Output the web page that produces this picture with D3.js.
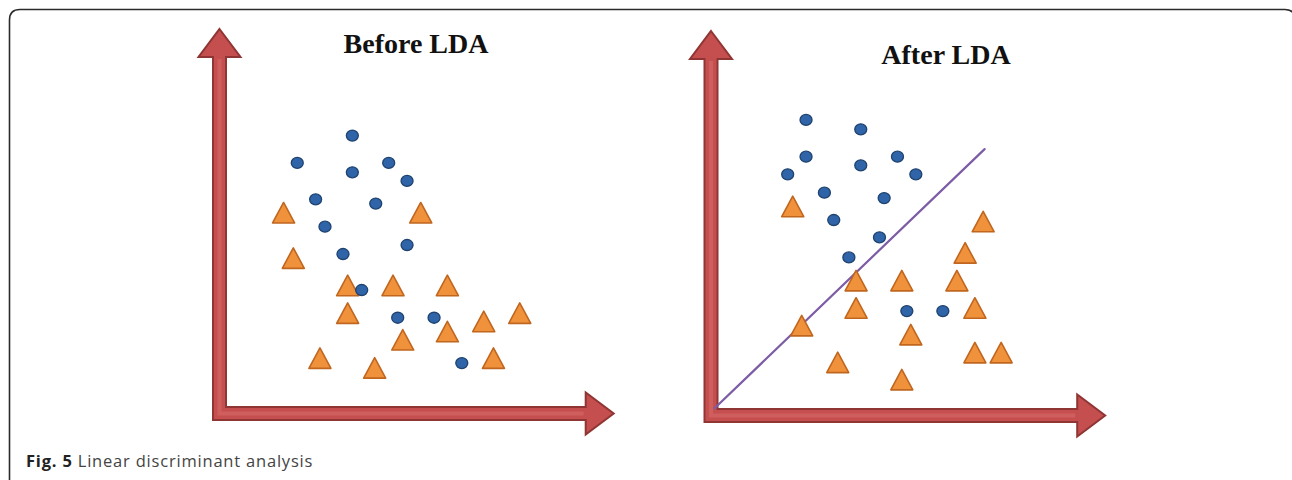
<!DOCTYPE html>
<html><head><meta charset="utf-8">
<script src="https://cdn.jsdelivr.net/npm/d3@7"></script>
<style>body{margin:0;background:#fff}svg{display:block}</style>
</head><body>
<script>
// ---- data (arbitrary feature units, axes origin = 0) ----
const titles = ["Before LDA", "After LDA"];
const beforeCircles = [[3.69,7.72],[2.16,6.96],[4.70,6.96],[3.69,6.70],[5.21,6.46],[2.67,5.95],[4.34,5.83],[2.93,5.19],[5.21,4.68],[3.43,4.43],[3.95,3.43],[4.95,2.66],[5.96,2.66],[6.73,1.40]];
const beforeTriangles = [[1.78,5.57],[5.59,5.57],[2.05,4.31],[3.56,3.55],[4.82,3.55],[6.33,3.55],[3.56,2.78],[8.34,2.78],[7.34,2.55],[6.33,2.27],[5.09,2.04],[2.79,1.53],[7.61,1.53],[4.31,1.26]];
const afterCircles = [[2.64,8.21],[4.16,7.95],[2.64,7.19],[4.16,6.95],[5.18,7.19],[2.13,6.70],[5.69,6.70],[3.15,6.19],[4.81,6.04],[3.41,5.43],[4.68,4.95],[3.83,4.39],[5.44,2.90],[6.44,2.90]];
const afterTriangles = [[2.27,5.80],[7.56,5.38],[7.06,4.51],[4.03,3.74],[5.30,3.74],[6.83,3.74],[4.03,2.98],[7.33,2.98],[2.52,2.49],[5.55,2.24],[3.52,1.47],[7.33,1.74],[8.06,1.74],[5.30,0.99]];
const discriminantLine = [[0.1,0.2],[7.6,7.4]];
const axisExtent = {x: 10.95, y: 10.68};
const caption = {bold: "Fig. 5", text: " Linear discriminant analysis"};

const W = 1292, H = 480;
const svg = d3.select("body").append("svg").attr("width", W).attr("height", H);

// frame
svg.append("path")
  .attr("d", `M9.5,${H+2} L9.5,20 Q9.5,9.5 20,9.5 L1285,9.5 Q1295,9.5 1295,20 L1295,${H+2}`)
  .attr("fill","none").attr("stroke","#2b2b2b").attr("stroke-width",1.6);

const panels = [
  {title: titles[0], ox: 219.5, oy: 413.5, titleX: 416, titleY: 53, circles: beforeCircles, triangles: beforeTriangles, line: null},
  {title: titles[1], ox: 711, oy: 415.5, titleX: 946, titleY: 64, circles: afterCircles, triangles: afterTriangles, line: discriminantLine}
];

panels.forEach((p, i) => {
  const x = d3.scaleLinear().domain([0,10]).range([p.ox, p.ox + 360]);
  const y = d3.scaleLinear().domain([0,10]).range([p.oy, p.oy - 360]);
  const g = svg.append("g");

  // L-shaped arrow axes
  const sw = 6.5, hw = 21, hl = 28;
  const x0 = x(0), y0 = y(0), xt = x(axisExtent.x), yt = y(axisExtent.y);
  const pts = [
    [x0, yt],
    [x0 + hw, yt + hl], [x0 + sw, yt + hl],
    [x0 + sw, y0 - sw],
    [xt - hl, y0 - sw], [xt - hl, y0 - hw],
    [xt, y0],
    [xt - hl, y0 + hw], [xt - hl, y0 + sw],
    [x0 - sw, y0 + sw],
    [x0 - sw, yt + hl], [x0 - hw, yt + hl]
  ];
  g.append("path").attr("d", d3.line()(pts) + "Z")
    .attr("fill", "#c44f4e").attr("stroke", "#8f3634").attr("stroke-width", 2)
    .attr("stroke-linejoin", "miter");
  // inner highlight
  g.append("path").attr("d", d3.line()([[x0, yt+hl+2],[x0, y0],[xt-hl-2, y0]]))
    .attr("fill","none").attr("stroke","#cf5f5e").attr("stroke-width",4);

  // title
  g.append("text").attr("x", p.titleX).attr("y", p.titleY).attr("text-anchor","middle")
    .attr("font-family","'Liberation Serif','Times New Roman',serif").attr("font-weight","bold")
    .attr("font-size", 28).attr("fill","#111").text(p.title);

  // discriminant line
  if (p.line) {
    g.append("line")
      .attr("x1", x(p.line[0][0])).attr("y1", y(p.line[0][1]))
      .attr("x2", x(p.line[1][0])).attr("y2", y(p.line[1][1]))
      .attr("stroke","#7d5ca6").attr("stroke-width",2.2).attr("stroke-linecap","round");
  }

  // triangles
  g.selectAll("path.tri").data(p.triangles).join("path").attr("class","tri")
    .attr("d", d => { const cx = x(d[0]), cy = y(d[1]);
      return `M${cx},${cy-10.5}L${cx+11},${cy+10}L${cx-11},${cy+10}Z`; })
    .attr("fill","#f0923c").attr("stroke","#c0661f").attr("stroke-width",1.6).attr("stroke-linejoin","round");

  // circles
  g.selectAll("ellipse").data(p.circles).join("ellipse")
    .attr("cx", d => x(d[0])).attr("cy", d => y(d[1]))
    .attr("rx", 6).attr("ry", 5.5)
    .attr("fill","#2f65a8").attr("stroke","#1f426f").attr("stroke-width",1.3);
});

// caption
const cap = svg.append("text").attr("x", 26).attr("y", 467)
  .attr("font-family","'Open Sans','Noto Sans',sans-serif").attr("font-size", 16.5)
  .attr("letter-spacing", 0.8).attr("fill","#333");
cap.append("tspan").attr("font-weight","bold").attr("fill","#222").text(caption.bold);
cap.append("tspan").attr("fill","#444").text(caption.text);
</script>
</body></html>
